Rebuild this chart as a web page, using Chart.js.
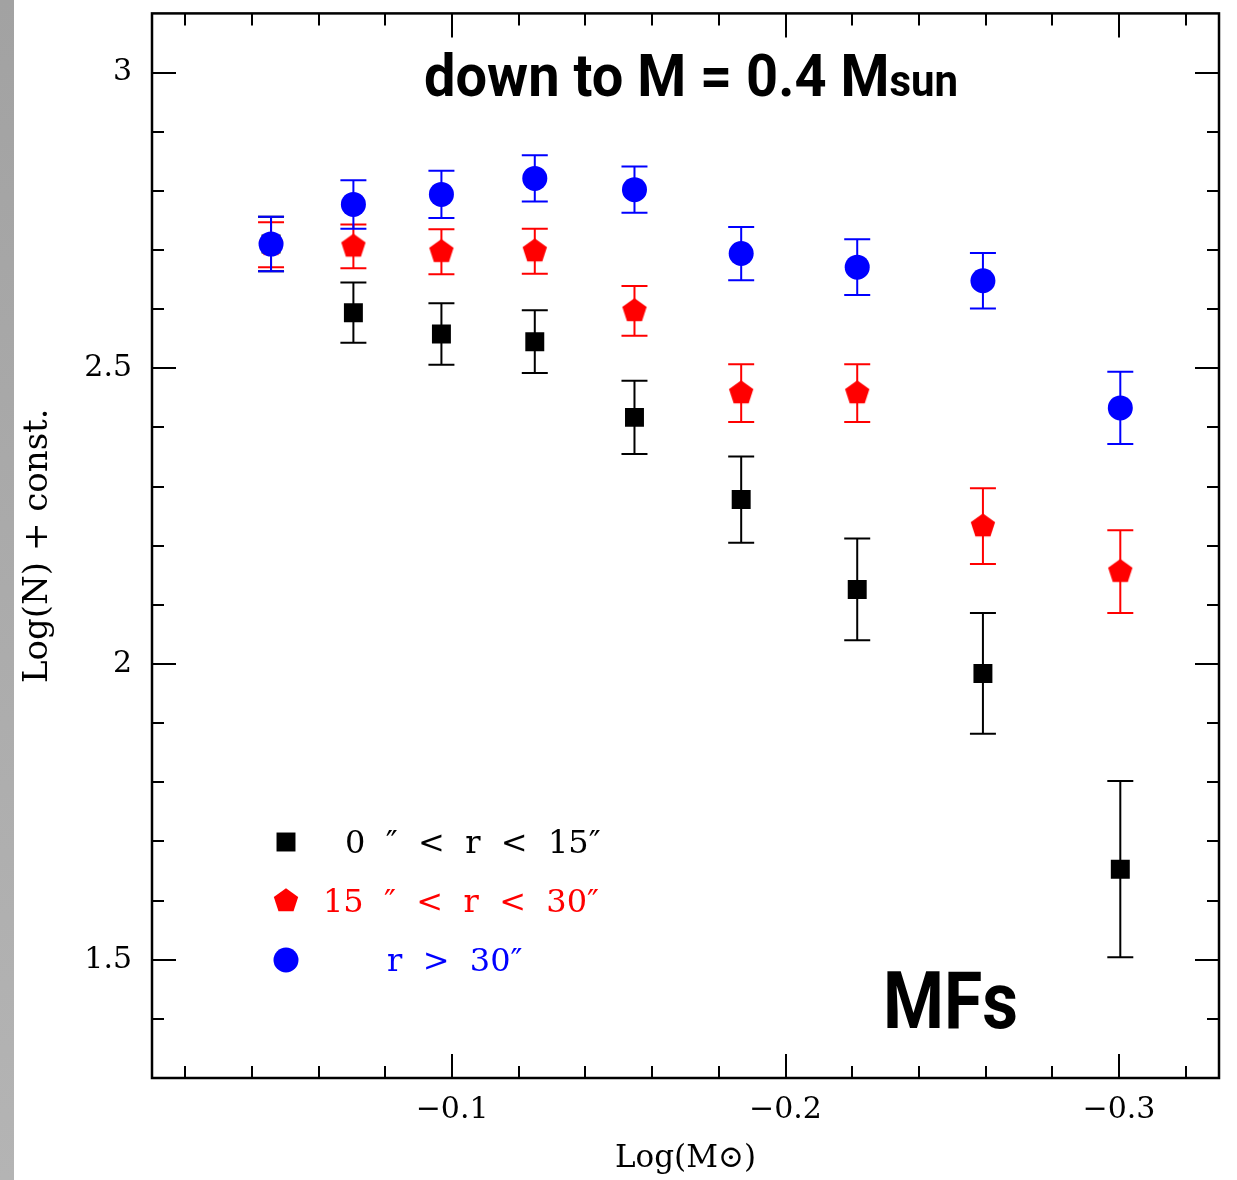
<!DOCTYPE html>
<html><head><meta charset="utf-8">
<script src="https://cdn.jsdelivr.net/npm/chart.js@4.4.0/dist/chart.umd.min.js"></script>
<style>html,body{margin:0;padding:0;background:#fff;overflow:hidden}#wrap{position:relative;width:1237px;height:1180px}</style>
</head><body><div id="wrap"><canvas id="c" width="1237" height="1180"></canvas></div>
<script>
// ---- data ----
const logMass    = [-0.0457, -0.0704, -0.0968, -0.1248, -0.1547, -0.1867, -0.2215, -0.2592, -0.3004];
const innerLogN  = [2.710, 2.594, 2.558, 2.545, 2.417, 2.278, 2.126, 1.984, 1.653];
const innerErr   = [0.046, 0.051, 0.052, 0.053, 0.062, 0.073, 0.086, 0.102, 0.149];
const middleLogN = [2.709, 2.706, 2.697, 2.698, 2.597, 2.458, 2.458, 2.233, 2.156];
const middleErr  = [0.038, 0.037, 0.038, 0.038, 0.042, 0.049, 0.049, 0.064, 0.070];
const outerLogN  = [2.710, 2.777, 2.794, 2.821, 2.802, 2.694, 2.671, 2.648, 2.433];
const outerErr   = [0.046, 0.041, 0.040, 0.039, 0.039, 0.045, 0.047, 0.047, 0.061];
const seriesLabels = ['0  ″  <  r  <  15″', '15  ″  <  r  <  30″', 'r  >  30″'];
const seriesColors = ['#000000', '#ff0000', '#0000ff'];
const xMajorTicks = [-0.1, -0.2, -0.3];
const xMinorTicks = [-0.02, -0.04, -0.06, -0.08, -0.12, -0.14, -0.16, -0.18, -0.22, -0.24, -0.26, -0.28, -0.32];
const yMajorTicks = [1.5, 2, 2.5, 3];
const yMinorTicks = [1.4, 1.6, 1.7, 1.8, 1.9, 2.1, 2.2, 2.3, 2.4, 2.6, 2.7, 2.8, 2.9];
const titleMain = 'down to M = 0.4 M';
const titleSub = 'sun';
const panelLabel = 'MFs';

// pentagon marker
function makePentagon(color, R) {
  const c = document.createElement('canvas');
  const s = Math.ceil(2 * R + 2);
  c.width = s; c.height = s;
  const g = c.getContext('2d');
  g.fillStyle = color;
  g.beginPath();
  for (let k = 0; k < 5; k++) {
    const a = -Math.PI / 2 + k * 2 * Math.PI / 5;
    const px = s / 2 + R * Math.cos(a), py = s / 2 + R * Math.sin(a);
    if (k === 0) g.moveTo(px, py); else g.lineTo(px, py);
  }
  g.closePath(); g.fill();
  return c;
}
const pent = makePentagon('#ff0000', 12.8);

const serif = "'DejaVu Serif', 'Liberation Serif', serif";
const sans = "Roboto, 'DejaVu Sans', sans-serif";

function pts(ys) { return logMass.map((x, i) => ({ x: x, y: ys[i] })); }

const datasets = [
  { label: seriesLabels[0], data: pts(innerLogN), errors: innerErr, pointStyle: 'rect', pointRadius: 13.4, pointHoverRadius: 13.4,
    backgroundColor: seriesColors[0], borderColor: seriesColors[0], pointBorderWidth: 0, showLine: false, order: 3 },
  { label: seriesLabels[1], data: pts(middleLogN), errors: middleErr, pointStyle: pent, pointRadius: 13,
    backgroundColor: seriesColors[1], borderColor: seriesColors[1], pointBorderWidth: 0, showLine: false, order: 2 },
  { label: seriesLabels[2], data: pts(outerLogN), errors: outerErr, pointStyle: 'circle', pointRadius: 12.5, pointHoverRadius: 12.5,
    backgroundColor: seriesColors[2], borderColor: seriesColors[2], pointBorderWidth: 0, showLine: false, order: 1 }
];

const bgPlugin = {
  id: 'bg',
  beforeDraw(chart) {
    const ctx = chart.ctx;
    ctx.save();
    ctx.fillStyle = '#ffffff';
    ctx.fillRect(0, 0, chart.width, chart.height);
    const g = ctx.createLinearGradient(0, 0, 0, chart.height);
    g.addColorStop(0, '#a2a2a2'); g.addColorStop(1, '#b4b4b4');
    ctx.fillStyle = g;
    ctx.fillRect(0, 0, 14, chart.height);
    ctx.restore();
  }
};

const errorBarPlugin = {
  id: 'errbars',
  beforeDatasetsDraw(chart) {
    const ctx = chart.ctx, xs = chart.scales.x, ys = chart.scales.y;
    ctx.save();
    ctx.lineWidth = 2;
    chart.data.datasets.forEach(ds => {
      ctx.strokeStyle = ds.borderColor;
      ds.data.forEach((p, i) => {
        const e = ds.errors[i];
        const x = xs.getPixelForValue(p.x);
        const y1 = ys.getPixelForValue(p.y + e), y2 = ys.getPixelForValue(p.y - e);
        ctx.beginPath();
        ctx.moveTo(x, y1); ctx.lineTo(x, y2);
        ctx.moveTo(x - 13, y1); ctx.lineTo(x + 13, y1);
        ctx.moveTo(x - 13, y2); ctx.lineTo(x + 13, y2);
        ctx.stroke();
      });
    });
    ctx.restore();
  }
};

function drawFitted(ctx, parts, x, baseline, targetW) {
  let w = 0;
  parts.forEach(p => { ctx.font = p.font; p.w = ctx.measureText(p.text).width; w += p.w; });
  const s = targetW / w;
  ctx.save(); ctx.translate(x, baseline); ctx.scale(s, 1);
  let cx = 0;
  parts.forEach(p => { ctx.font = p.font; ctx.fillText(p.text, cx, 0); cx += p.w; });
  ctx.restore();
}

const framePlugin = {
  id: 'frame',
  afterDatasetsDraw(chart) {
    const ctx = chart.ctx, a = chart.chartArea, xs = chart.scales.x, ys = chart.scales.y;
    ctx.save();
    ctx.strokeStyle = '#000';
    ctx.lineWidth = 2;
    ctx.beginPath();
    const tick = (vals, len) => {
      vals.forEach(v => {
        const x = Math.round(xs.getPixelForValue(v));
        ctx.moveTo(x, a.bottom); ctx.lineTo(x, a.bottom - len);
        ctx.moveTo(x, a.top); ctx.lineTo(x, a.top + len);
      });
    };
    const tickY = (vals, len) => {
      vals.forEach(v => {
        const y = Math.round(ys.getPixelForValue(v));
        ctx.moveTo(a.left, y); ctx.lineTo(a.left + len, y);
        ctx.moveTo(a.right, y); ctx.lineTo(a.right - len, y);
      });
    };
    tick(xMajorTicks, 24); tick(xMinorTicks, 12);
    tickY(yMajorTicks, 24); tickY(yMinorTicks, 12);
    ctx.stroke();
    ctx.lineWidth = 2.5;
    ctx.strokeRect(a.left, a.top, a.right - a.left, a.bottom - a.top);

    // legend
    const rows = [842, 901, 960];
    const textX = [345, 323, 387];
    chart.data.datasets.forEach((ds, i) => {
      ctx.fillStyle = ds.backgroundColor;
      const opt = { pointStyle: ds.pointStyle, radius: ds.pointRadius, borderWidth: 0, rotation: 0 };
      Chart.helpers.drawPoint(ctx, opt, 286, rows[i]);
      ctx.font = '32px ' + serif;
      ctx.textBaseline = 'alphabetic';
      ctx.textAlign = 'left';
      ctx.fillText(ds.label, textX[i], rows[i] + 11);
    });

    // annotations
    ctx.fillStyle = '#000';
    ctx.textAlign = 'left';
    ctx.textBaseline = 'alphabetic';
    drawFitted(ctx, [{ text: titleMain, font: 'bold 60px ' + sans }, { text: titleSub, font: 'bold 45px ' + sans }], 424, 96, 534);
    drawFitted(ctx, [{ text: panelLabel, font: 'bold 80px ' + sans }], 883, 1028, 135);
    ctx.restore();
  }
};

const fmt = v => String(v).replace('-', '−');

new Chart(document.getElementById('c'), {
  type: 'scatter',
  data: { datasets: datasets },
  options: {
    responsive: false, animation: false, devicePixelRatio: 1,
    layout: { padding: { top: 13, right: 18, left: 0, bottom: 0 } },
    plugins: { legend: { display: false }, tooltip: { enabled: false } },
    scales: {
      x: {
        type: 'linear', reverse: true, min: -0.33, max: -0.01,
        afterBuildTicks: s => { s.ticks = xMajorTicks.map(v => ({ value: v })); },
        afterFit: s => { s.height = 102; s.paddingLeft = 0; s.paddingRight = 0; },
        grid: { display: false, drawTicks: false }, border: { display: false },
        ticks: { font: { family: serif, size: 30 }, color: '#000', padding: 14, maxRotation: 0, autoSkip: false, callback: v => fmt(v) },
        title: { display: true, text: 'Log(M⊙)', font: { family: serif, size: 31 }, color: '#000', padding: { top: 0, bottom: 2 } }
      },
      y: {
        type: 'linear', min: 1.3, max: 3.1,
        afterBuildTicks: s => { s.ticks = yMajorTicks.map(v => ({ value: v })); },
        afterFit: s => { s.width = 152; s.paddingTop = 0; s.paddingBottom = 0; },
        grid: { display: false, drawTicks: false }, border: { display: false },
        ticks: { font: { family: serif, size: 30 }, color: '#000', padding: 20, autoSkip: false, callback: v => fmt(v) },
        title: { display: true, text: 'Log(N) + const.', font: { family: serif, size: 34 }, color: '#000', padding: { top: 18, bottom: 0 } }
      }
    }
  },
  plugins: [bgPlugin, errorBarPlugin, framePlugin]
});
</script></body></html>
